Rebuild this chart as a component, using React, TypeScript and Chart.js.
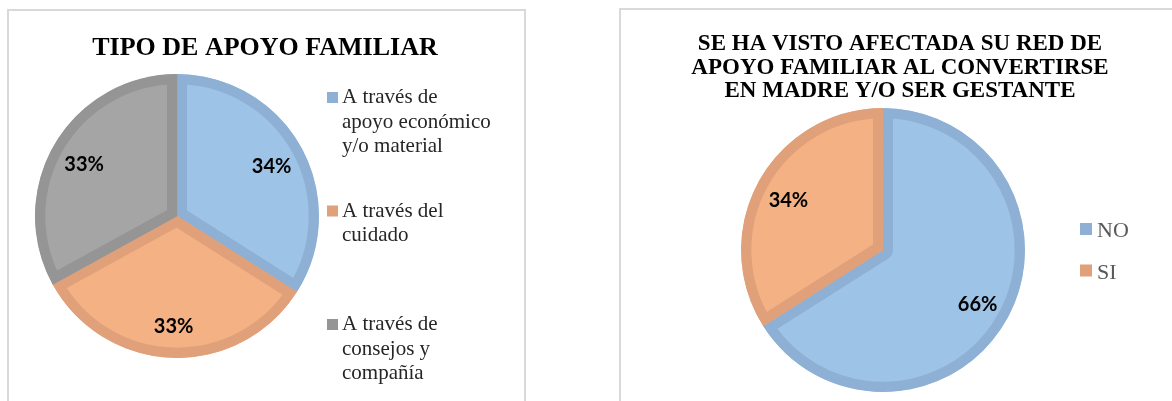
import React, { useEffect, useRef } from "react";
import { Chart, registerables } from "chart.js";

Chart.register(...registerables);

// ---- Chart 1: Tipo de apoyo familiar ----
const apoyoTitle = ["TIPO DE APOYO FAMILIAR"];
const apoyoCategories = [
  ["A través de", "apoyo económico", "y/o material"],
  ["A través del", "cuidado"],
  ["A través de", "consejos y", "compañía"],
];
const apoyoValues = [34, 33, 33];
const apoyoFill = ["#9DC3E6", "#F4B183", "#A5A5A5"];
const apoyoBorder = ["#8EB0D4", "#DFA07A", "#959595"];

// ---- Chart 2: Red de apoyo afectada ----
const redTitle = [
  "SE HA VISTO AFECTADA SU RED DE",
  "APOYO FAMILIAR AL CONVERTIRSE",
  "EN MADRE Y/O SER GESTANTE",
];
const redCategories = [["NO"], ["SI"]];
const redValues = [66, 34];
const redFill = ["#9DC3E6", "#F4B183"];
const redBorder = ["#8EB0D4", "#DFA07A"];

const overlayPlugin = {
  id: "overlay",
  afterDraw(chart: any, _args: any, opts: any) {
    const ctx = chart.ctx;
    ctx.save();
    // title
    const t = opts.title;
    ctx.font = t.font;
    ctx.fillStyle = t.color;
    ctx.textAlign = "center";
    ctx.textBaseline = "alphabetic";
    t.lines.forEach((line: string, i: number) => ctx.fillText(line, t.x, t.y + i * t.lineHeight));

    // data labels
    const meta = chart.getDatasetMeta(0);
    const ds = chart.data.datasets[0];
    const total = ds.data.reduce((a: number, b: number) => a + b, 0);
    const lb = opts.labels;
    ctx.font = lb.font;
    ctx.fillStyle = lb.color;
    ctx.textBaseline = "middle";
    ctx.textAlign = "center";
    meta.data.forEach((arc: any, i: number) => {
      const p = arc.getProps(["x", "y", "startAngle", "endAngle", "outerRadius"], true);
      const mid = (p.startAngle + p.endAngle) / 2;
      const r = p.outerRadius * lb.radius;
      ctx.fillText(
        Math.round((ds.data[i] / total) * 100) + "%",
        p.x + Math.cos(mid) * r,
        p.y + Math.sin(mid) * r + lb.dy
      );
    });

    // legend
    const lg = opts.legend;
    ctx.textAlign = "left";
    ctx.textBaseline = "alphabetic";
    ctx.font = lg.font;
    chart.data.labels.forEach((lab: any, i: number) => {
      const lines = Array.isArray(lab) ? lab : [lab];
      const base = lg.y + i * lg.itemSpacing;
      ctx.fillStyle = ds.borderColor[i];
      ctx.fillRect(lg.x, base - lg.boxOffset, lg.boxSize, lg.boxSize);
      ctx.fillStyle = lg.color;
      lines.forEach((ln: string, j: number) =>
        ctx.fillText(ln, lg.x + lg.boxSize + lg.gap, base + j * lg.lineHeight)
      );
    });
    ctx.restore();
  },
};

type PieProps = {
  width: number;
  height: number;
  categories: string[][];
  values: number[];
  fill: string[];
  border: string[];
  padding: { left: number; right: number; top: number; bottom: number };
  overlay: any;
};

function PieChart(props: PieProps) {
  const ref = useRef<HTMLCanvasElement | null>(null);
  useEffect(() => {
    if (!ref.current) return;
    const chart = new Chart(ref.current, {
      type: "pie",
      data: {
        labels: props.categories as any,
        datasets: [
          {
            data: props.values,
            backgroundColor: props.fill,
            borderColor: props.border,
            borderWidth: 10,
            borderAlign: "inner",
            hoverBorderWidth: 10,
          } as any,
        ],
      },
      options: {
        responsive: false,
        animation: false,
        events: [],
        layout: { padding: props.padding },
        plugins: {
          legend: { display: false },
          title: { display: false },
          tooltip: { enabled: false },
          overlay: props.overlay,
        } as any,
      },
      plugins: [overlayPlugin],
    });
    return () => chart.destroy();
  }, []);
  return (
    <canvas
      ref={ref}
      width={props.width}
      height={props.height}
      style={{ display: "block", width: props.width, height: props.height }}
    />
  );
}

const boxStyle = (left: number, top: number, width: number): React.CSSProperties => ({
  position: "absolute",
  left,
  top,
  width,
  height: 420,
  border: "2px solid #D9D9D9",
  background: "#FFFFFF",
});

export default function App() {
  return (
    <div
      style={{
        position: "fixed",
        left: 0,
        top: 0,
        width: 1172,
        height: 401,
        overflow: "hidden",
        background: "#FFFFFF",
      }}
    >
      <div style={boxStyle(7, 9, 515)}>
        <PieChart
          width={515}
          height={390}
          categories={apoyoCategories}
          values={apoyoValues}
          fill={apoyoFill}
          border={apoyoBorder}
          padding={{ left: 26, right: 205, top: 63, bottom: 43 }}
          overlay={{
            title: {
              lines: apoyoTitle,
              x: 256,
              y: 44,
              lineHeight: 30,
              font: "bold 26px 'Liberation Serif', 'Times New Roman', serif",
              color: "#000000",
            },
            labels: { font: "bold 20px Lato, 'Open Sans', sans-serif", color: "#000000", radius: 0.76, dy: 3 },
            legend: {
              x: 318,
              y: 92,
              itemSpacing: 113.5,
              lineHeight: 24.5,
              boxSize: 11,
              boxOffset: 11,
              gap: 4,
              font: "21px 'Liberation Serif', 'Times New Roman', serif",
              color: "#262626",
            },
          }}
        />
      </div>
      <div style={boxStyle(619, 8, 560)}>
        <PieChart
          width={551}
          height={391}
          categories={redCategories}
          values={redValues}
          fill={redFill}
          border={redBorder}
          padding={{ left: 120, right: 147, top: 98, bottom: 9 }}
          overlay={{
            title: {
              lines: redTitle,
              x: 279,
              y: 40,
              lineHeight: 23.5,
              font: "bold 23px 'Liberation Serif', 'Times New Roman', serif",
              color: "#000000",
            },
            labels: { font: "bold 20px Lato, 'Open Sans', sans-serif", color: "#000000", radius: 0.76, dy: 3 },
            legend: {
              x: 459,
              y: 227,
              itemSpacing: 41.5,
              lineHeight: 24,
              boxSize: 12,
              boxOffset: 14,
              gap: 5,
              font: "22px 'Liberation Serif', 'Times New Roman', serif",
              color: "#595959",
            },
          }}
        />
      </div>
    </div>
  );
}
